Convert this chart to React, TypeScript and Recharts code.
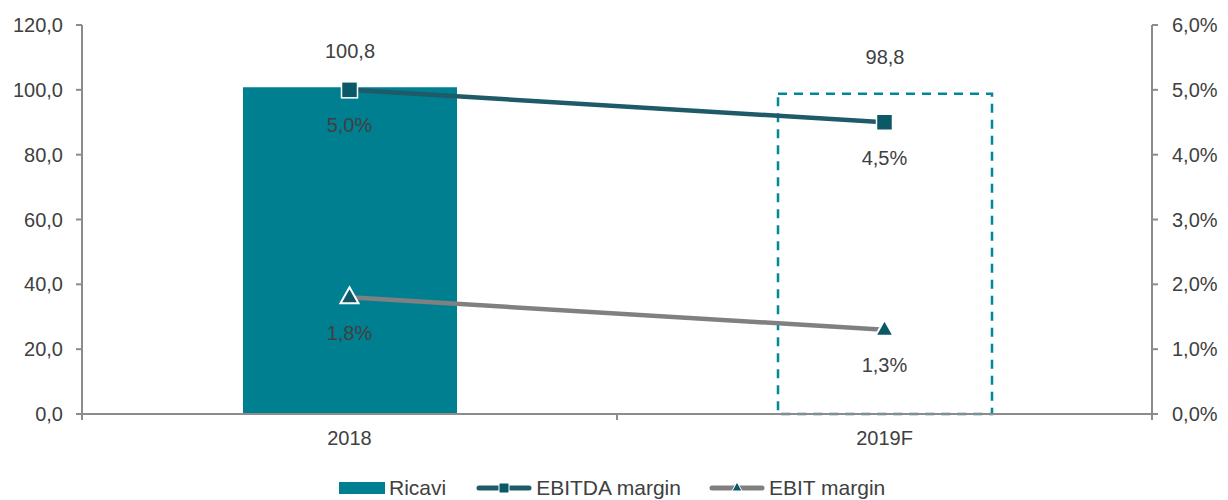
import { ComposedChart, Bar, Line, XAxis, YAxis, Cell, LabelList } from 'recharts';

const categories = ['2018', '2019F'];
const ricavi = [100.8, 98.8];
const ebitdaMargin = [5.0, 4.5];
const ebitMargin = [1.8, 1.3];
const leftTicks = [0, 20, 40, 60, 80, 100, 120];
const rightTicks = [0, 1, 2, 3, 4, 5, 6];

const W = 1228;
const H = 500;
const LEFT = 82;
const RIGHT = 76;
const TEAL = '#007F91';
const DARK = '#1F5A68';
const MARK = '#0B5967';
const GREY = '#808080';
const TEXT = '#404040';
const AXIS = '#8C8C8C';
const FONT = '"Liberation Sans", Arial, sans-serif';
const FS = 20;

const data = categories.map((c, i) => ({
  cat: c,
  ricavi: ricavi[i],
  ebitda: ebitdaMargin[i],
  ebit: ebitMargin[i],
}));

const fmt = (v: number, d = 1) => v.toFixed(d).replace('.', ',');

function XTick({ x, y, payload, index }: any) {
  const half = (W - LEFT - RIGHT) / categories.length / 2;
  return (
    <g>
      <line x1={x - half} x2={x - half} y1={y - 8} y2={y - 2} stroke={AXIS} strokeWidth={2} />
      {index === categories.length - 1 && (
        <line x1={x + half} x2={x + half} y1={y - 8} y2={y - 2} stroke={AXIS} strokeWidth={2} />
      )}
      <text x={x} y={y + 18} textAnchor="middle" dominantBaseline="middle" fill={TEXT} fontSize={FS} fontFamily={FONT}>
        {payload.value}
      </text>
    </g>
  );
}

function BarLabel({ x, y, width, value }: any) {
  return (
    <text x={x + width / 2} y={y - 35} textAnchor="middle" dominantBaseline="middle" fill={TEXT} fontSize={FS} fontFamily={FONT}>
      {fmt(value)}
    </text>
  );
}

function PctLabel({ x, y, value }: any) {
  return (
    <text x={x} y={y + 37} textAnchor="middle" dominantBaseline="middle" fill={TEXT} fontSize={FS} fontFamily={FONT}>
      {fmt(value)}%
    </text>
  );
}

function SquareDot({ cx, cy }: any) {
  if (cx == null || cy == null) return null;
  return <rect x={cx - 8} y={cy - 8} width={16} height={16} fill={MARK} stroke="#fff" strokeWidth={1.5} />;
}

function TriDot({ cx, cy }: any) {
  if (cx == null || cy == null) return null;
  return (
    <path
      d={`M${cx},${cy - 10} L${cx + 9},${cy + 6} L${cx - 9},${cy + 6} Z`}
      fill={MARK}
      stroke="#fff"
      strokeWidth={2}
    />
  );
}

function LegendBox() {
  const text = { marginLeft: 4 } as const;
  return (
    <div
      style={{
        position: 'absolute',
        left: 339,
        top: 477,
        display: 'flex',
        alignItems: 'center',
        fontFamily: FONT,
        fontSize: 21,
        color: TEXT,
        lineHeight: '22px',
        whiteSpace: 'nowrap',
      }}
    >
      <svg width={46} height={14}>
        <rect x={0} y={1} width={46} height={12} fill={TEAL} />
      </svg>
      <span style={{ marginLeft: 4 }}>Ricavi</span>
      <svg width={56} height={14} style={{ marginLeft: 30 }}>
        <line x1={3} x2={53} y1={7} y2={7} stroke={DARK} strokeWidth={5} strokeLinecap="round" />
        <rect x={23} y={2} width={10} height={10} fill={MARK} stroke="#fff" strokeWidth={1} />
      </svg>
      <span style={text}>EBITDA margin</span>
      <svg width={56} height={14} style={{ marginLeft: 28 }}>
        <line x1={3} x2={53} y1={7} y2={7} stroke={GREY} strokeWidth={5} strokeLinecap="round" />
        <path d="M28,1 L33,10 L23,10 Z" fill={MARK} stroke="#fff" strokeWidth={1} />
      </svg>
      <span style={text}>EBIT margin</span>
    </div>
  );
}

export default function App() {
  return (
    <div style={{ position: 'absolute', left: 0, top: 0, width: W, height: H, background: '#fff' }}>
      <ComposedChart width={W} height={H} data={data} margin={{ top: 25, right: 0, bottom: 56, left: 0 }}>
        <XAxis
          dataKey="cat"
          height={30}
          stroke={AXIS}
          strokeWidth={2}
          tickLine={false}
          tick={<XTick />}
          interval={0}
        />
        <YAxis
          yAxisId="left"
          orientation="left"
          width={LEFT}
          domain={[0, 120]}
          ticks={leftTicks}
          tickFormatter={(v: number) => fmt(v)}
          stroke={AXIS}
          strokeWidth={2}
          tickSize={6}
          tickMargin={13}
          tick={{ fill: TEXT, fontSize: FS, fontFamily: FONT }}
        />
        <YAxis
          yAxisId="right"
          orientation="right"
          width={RIGHT}
          domain={[0, 6]}
          ticks={rightTicks}
          tickFormatter={(v: number) => `${fmt(v)}%`}
          stroke={AXIS}
          strokeWidth={2}
          tickSize={6}
          tickMargin={14}
          tick={{ fill: TEXT, fontSize: FS, fontFamily: FONT, textAnchor: 'start' }}
        />
        <Bar yAxisId="left" dataKey="ricavi" barSize={214} isAnimationActive={false}>
          {data.map((d, i) => (
            <Cell
              key={d.cat}
              fill={i === 0 ? TEAL : '#fff'}
              stroke={i === 0 ? 'none' : '#00889B'}
              strokeWidth={i === 0 ? 0 : 2.5}
              strokeDasharray={i === 0 ? undefined : '9 7'}
            />
          ))}
          <LabelList dataKey="ricavi" content={<BarLabel />} />
        </Bar>
        <Line
          yAxisId="right"
          dataKey="ebitda"
          stroke={DARK}
          strokeWidth={4.5}
          dot={<SquareDot />}
          activeDot={false}
          isAnimationActive={false}
        >
          <LabelList dataKey="ebitda" content={<PctLabel />} />
        </Line>
        <Line
          yAxisId="right"
          dataKey="ebit"
          stroke={GREY}
          strokeWidth={4.5}
          dot={<TriDot />}
          activeDot={false}
          isAnimationActive={false}
        >
          <LabelList dataKey="ebit" content={<PctLabel />} />
        </Line>
      </ComposedChart>
      <LegendBox />
    </div>
  );
}
